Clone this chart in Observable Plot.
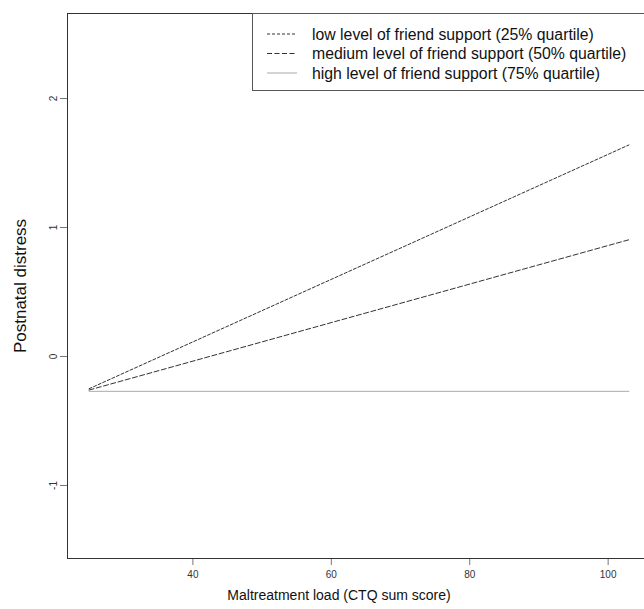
<!DOCTYPE html>
<html><head><meta charset="utf-8">
<script src="https://cdn.jsdelivr.net/npm/d3@7"></script>
<script src="https://cdn.jsdelivr.net/npm/@observablehq/plot@0.6"></script>
<style>
body{margin:0;background:#fff;font-family:"Liberation Sans",Arial,Helvetica,sans-serif;}
#wrap{position:relative;width:644px;height:609px;overflow:hidden;}
#legend{position:absolute;left:252px;top:13px;width:420px;height:78px;border:1px solid #555;background:#fff;box-sizing:border-box;}
</style>
</head><body>
<div id="wrap"><div id="chart"></div><div id="legend"></div></div>
<script>
const xValues = [25, 103];
const lowValues = [-0.25, 1.64];
const mediumValues = [-0.26, 0.905];
const highValues = [-0.27, -0.27];
const seriesNames = [
  "low level of friend support (25% quartile)",
  "medium level of friend support (50% quartile)",
  "high level of friend support (75% quartile)"
];
const seriesValues = [lowValues, mediumValues, highValues];
const xTicks = [40, 60, 80, 100];
const yTicks = [-1, 0, 1, 2];
const xTitle = "Maltreatment load (CTQ sum score)";
const yTitle = "Postnatal distress";
const styles = [
  {stroke: "#333", dash: "3,2"},
  {stroke: "#333", dash: "5,2.5"},
  {stroke: "#aaa", dash: null}
];

const data = [];
seriesNames.forEach((s, i) => xValues.forEach((x, j) => data.push({series: s, idx: i, x, y: seriesValues[i][j]})));

const font = '"Liberation Sans",Arial,Helvetica,sans-serif';
const marks = [
  Plot.axisX(xTicks, {tickSize: 7, tickPadding: 5, fontSize: 10, stroke: "#777", fill: "#333", label: null, tickFormat: d => String(d)}),
  Plot.axisY(yTicks, {tickSize: 7, tickPadding: 4, fontSize: 10, stroke: "#777", fill: "#333", tickRotate: -90, label: null, tickFormat: d => String(d)}),
  Plot.frame({stroke: "#333"}),
  Plot.text([xTitle], {frameAnchor: "bottom", dx: -20, dy: 41, fontSize: 14, fill: "#111", text: d => d}),
  Plot.text([yTitle], {frameAnchor: "left", textAnchor: "middle", dx: -47, rotate: -90, fontSize: 17, fill: "#111", text: d => d})
];
styles.forEach((st, i) => {
  marks.push(Plot.line(data.filter(d => d.idx === i), {x: "x", y: "y", stroke: st.stroke, strokeWidth: 1, strokeDasharray: st.dash}));
});

const chart = Plot.plot({
  width: 644, height: 609,
  marginLeft: 67, marginRight: -6, marginTop: 13, marginBottom: 51,
  style: {fontFamily: font, background: "#fff", overflow: "hidden"},
  x: {domain: [21.88, 106.12]},
  y: {domain: [-1.566, 2.659]},
  marks
});
document.getElementById("chart").appendChild(chart);

const leg = d3.select("#legend").append("svg").attr("width", 420).attr("height", 78);
seriesNames.forEach((s, i) => {
  const yy = 20 + i * 19.5;
  leg.append("line").attr("x1", 14).attr("x2", 44).attr("y1", yy).attr("y2", yy)
    .attr("stroke", styles[i].stroke).attr("stroke-width", 1).attr("stroke-dasharray", styles[i].dash);
  leg.append("text").attr("x", 59).attr("y", yy + 5.5).attr("font-size", 15.8).attr("font-family", font)
    .attr("fill", "#111").text(s);
});
</script>
</body></html>
